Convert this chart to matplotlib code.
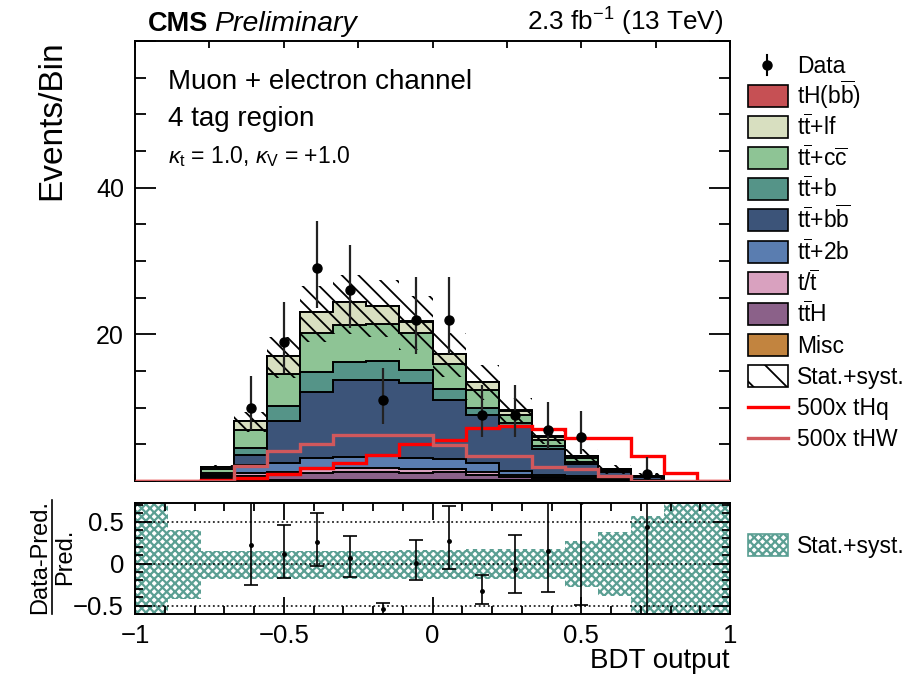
import numpy as np
import matplotlib
matplotlib.use("Agg")
import matplotlib.pyplot as plt
from matplotlib.patches import Rectangle
from matplotlib.lines import Line2D
from matplotlib.ticker import MultipleLocator, FixedLocator, NullFormatter, FixedFormatter, NullLocator

plt.rcParams['font.family'] = ['Liberation Sans', 'DejaVu Sans']
plt.rcParams['mathtext.fontset'] = 'custom'
plt.rcParams['mathtext.rm'] = 'Liberation Sans'
plt.rcParams['mathtext.it'] = 'Liberation Sans:italic'
plt.rcParams['mathtext.bf'] = 'Liberation Sans:bold'
plt.rcParams['mathtext.sf'] = 'Liberation Sans'

# ---- binning -------------------------------------------------------------
edges = np.linspace(-1.0, 1.0, 19)
centers = 0.5 * (edges[:-1] + edges[1:])

# ---- observed data (events per bin) and its asymmetric errors -------------
data = np.array([0, 0, 0, 10, 19, 29, 26, 11, 22, 22, 9, 9, 7, 6, 0, 1, 0, 0], float)
data_err_lo = np.array([0, 0, 0, 3.11, 4.32, 5.36, 5.07, 3.27, 4.66, 4.66, 2.95, 2.95, 2.58, 2.38, 0, 0.83, 0, 0])
data_err_hi = np.array([0, 0, 0, 4.27, 5.44, 6.47, 6.18, 4.42, 5.77, 5.77, 4.11, 4.11, 3.77, 3.58, 0, 2.30, 0, 0])

# ---- background components (bottom of stack first) -----------------------
misc = np.array([0, 0, 0.05, 0.12, 0.12, 0.15, 0.15, 0.15, 0.15, 0.15, 0.12, 0.10, 0.08, 0.05, 0.02, 0.01, 0, 0])
tth = np.array([0, 0, 0.12, 0.60, 0.70, 0.98, 1.12, 1.10, 0.89, 1.05, 0.70, 0.50, 0.32, 0.23, 0.07, 0.03, 0, 0])
single_t = np.array([0, 0, 0.10, 0.32, 0.36, 0.50, 0.53, 0.55, 0.59, 0.50, 0.45, 0.22, 0.10, 0.08, 0.05, 0.02, 0, 0])
tt_2b = np.array([0, 0, 0.23, 1.14, 1.22, 1.45, 1.50, 1.60, 1.57, 1.34, 1.13, 0.58, 0.32, 0.32, 0.12, 0.06, 0.01, 0])
tt_bb = np.array([0.01, 0.03, 0.32, 1.36, 5.76, 9.07, 10.50, 10.40, 10.20, 7.96, 6.58, 5.90, 3.48, 1.62, 0.90, 0.42, 0.04, 0])
tt_b = np.array([0, 0, 0.22, 1.00, 2.04, 2.65, 2.40, 2.50, 1.70, 1.50, 0.99, 0.55, 0.46, 0.30, 0.15, 0.05, 0, 0])
tt_cc = np.array([0, 0, 0.64, 2.40, 4.45, 5.45, 5.10, 5.15, 5.10, 3.50, 2.43, 1.13, 0.82, 0.55, 0.20, 0.06, 0, 0])
tt_lf = np.array([0, 0, 0.27, 1.26, 2.40, 2.85, 3.05, 2.40, 1.55, 1.30, 1.05, 0.62, 0.47, 0.30, 0.12, 0.04, 0, 0])
th_bb = np.array([0, 0, 0, 0.004, 0.01, 0.01, 0.02, 0.02, 0.02, 0.02, 0.02, 0.02, 0.02, 0.015, 0.01, 0.005, 0, 0])

# ---- signal templates scaled by 500 ---------------------------------------
thq_500 = np.array([0, 0, 0.10, 0.40, 0.95, 1.72, 2.40, 3.54, 5.00, 5.62, 7.20, 7.45, 7.10, 5.90, 5.80, 3.45, 1.05, 0])
thw_500 = np.array([0, 0, 0.05, 2.05, 4.10, 5.10, 6.26, 6.26, 6.26, 4.90, 3.40, 3.40, 1.95, 1.60, 0.68, 0.05, 0, 0])

# ---- relative stat.+syst. uncertainty of the prediction -------------------
unc_up = np.array([1.0, 0.40, 0.15, 0.15, 0.15, 0.15, 0.15, 0.15, 0.16, 0.165, 0.17, 0.17, 0.17, 0.27, 0.37, 0.57, 1.0, 1.0])
unc_dn = np.array([1.0, 0.42, 0.18, 0.18, 0.18, 0.18, 0.18, 0.18, 0.18, 0.18, 0.18, 0.18, 0.18, 0.28, 0.39, 1.0, 1.0, 1.0])

# ---- errors on (Data-Pred.)/Pred. ------------------------------------------
ratio_err_lo = np.array([0, 0, 0, 0.47, 0.29, 0.29, 0.23, 0.20, 0.21, 0.34, 0.145, 0.286, 0.49, 1.22, 0, 1.20, 0, 0])
ratio_err_hi = np.array([0, 0, 0, 0.60, 0.35, 0.345, 0.26, 0.075, 0.27, 0.42, 0.196, 0.40, 0.70, 0.80, 0, 1.20, 0, 0])

TT = r"t$\overline{\mathrm{t}}$"
components = [
    ("Misc", misc, "#c2843f"),
    (TT + "H", tth, "#8b6189"),
    (r"t/$\overline{\mathrm{t}}$", single_t, "#d9a1bf"),
    (TT + "+2b", tt_2b, "#5a7db0"),
    (TT + r"+b$\overline{\mathrm{b}}$", tt_bb, "#3c5479"),
    (TT + "+b", tt_b, "#559488"),
    (TT + r"+c$\overline{\mathrm{c}}$", tt_cc, "#8ec495"),
    (TT + "+lf", tt_lf, "#d8dfc0"),
    (r"tH(b$\overline{\mathrm{b}}$)", th_bb, "#c65054"),
]
THQ_COLOR = "#ff0000"
THW_COLOR = "#d0585c"
BAND_COLOR = "#5b9f93"

W, H = 910, 677
fig = plt.figure(figsize=(W / 100, H / 100), dpi=100)

def fx(px):
    return px / W

def fy(py):
    return 1 - py / H

ax = fig.add_axes([fx(135), fy(481), fx(730) - fx(135), fy(41) - fy(481)])
rax = fig.add_axes([fx(135), fy(614), fx(730) - fx(135), fy(503) - fy(614)])

# ---- stacked backgrounds --------------------------------------------------
cum = np.cumsum([c[1] for c in components], axis=0)
total = cum[-1]
for i in range(len(components) - 1, -1, -1):
    ax.stairs(cum[i], edges, baseline=0, fill=True, facecolor=components[i][2],
              edgecolor="black", linewidth=1.4, zorder=2)

# uncertainty band on the total prediction
with plt.rc_context({'hatch.linewidth': 1.3}):
    ax.stairs(total * (1 + unc_up), edges, baseline=total * (1 - unc_dn), fill=True,
              facecolor="none", edgecolor="black", linewidth=0, hatch="\\\\", zorder=3)

# signal templates
ax.stairs(thq_500, edges, baseline=0, color=THQ_COLOR, linewidth=2.4, zorder=4)
ax.stairs(thw_500, edges, baseline=0, color=THW_COLOR, linewidth=2.4, zorder=4)

# data
m = data > 0
ax.errorbar(centers[m], data[m], yerr=[data_err_lo[m], data_err_hi[m]], fmt="o",
            color="black", ecolor="#222222", markersize=6.5, elinewidth=1.6, capsize=0, zorder=6)

ax.set_xlim(-1, 1)
ax.set_ylim(0, 60)
ax.yaxis.set_major_locator(FixedLocator([0, 20, 40, 60]))
ax.yaxis.set_major_formatter(FixedFormatter(["", "20", "40", ""]))
ax.yaxis.set_minor_locator(MultipleLocator(5))
ax.xaxis.set_major_locator(MultipleLocator(0.25))
ax.xaxis.set_minor_locator(NullLocator())
ax.xaxis.set_major_formatter(NullFormatter())
ax.tick_params(axis="both", which="both", direction="in", top=True, right=True, width=1.3)
ax.tick_params(axis="y", which="major", length=15, labelsize=18, pad=8)
ax.tick_params(axis="y", which="minor", length=8)
ax.tick_params(axis="x", which="major", length=5)
for s in ax.spines.values():
    s.set_linewidth(1.4)

# ---- ratio panel ----------------------------------------------------------
with plt.rc_context({'hatch.linewidth': 1.6}):
    rax.stairs(unc_up, edges, baseline=-unc_dn, fill=True, facecolor="none",
               edgecolor=BAND_COLOR, linewidth=0, hatch="xxxx", zorder=1)
for yv in (0.5, 0.0, -0.5):
    rax.axhline(yv, color="black", linestyle=(0, (1.2, 1.8)), linewidth=1.1, zorder=2)

ratio = np.where(total > 0, data / np.where(total > 0, total, 1) - 1, 0)
rax.errorbar(centers[m], ratio[m], yerr=[ratio_err_lo[m], ratio_err_hi[m]], fmt="o",
             color="black", markersize=2.5, elinewidth=1.2, capsize=5, capthick=1.2, zorder=5)

rax.set_xlim(-1, 1)
rax.set_ylim(-0.6, 0.72)
rax.xaxis.set_major_locator(FixedLocator([-1, -0.5, 0, 0.5, 1]))
rax.xaxis.set_major_formatter(FixedFormatter(["\u22121", "\u22120.5", "0", "0.5", "1"]))
rax.xaxis.set_minor_locator(MultipleLocator(0.1))
rax.yaxis.set_major_locator(FixedLocator([-0.5, 0, 0.5]))
rax.yaxis.set_major_formatter(FixedFormatter(["\u22120.5", "0", "0.5"]))
rax.yaxis.set_minor_locator(MultipleLocator(0.1))
rax.tick_params(axis="both", which="both", direction="in", top=True, right=True, width=1.3,
                labelsize=18.5)
rax.tick_params(axis="both", which="major", length=12)
rax.tick_params(axis="both", which="minor", length=6)
rax.tick_params(axis="x", which="major", pad=7)
rax.tick_params(axis="y", which="major", pad=8)
for s in rax.spines.values():
    s.set_linewidth(1.4)

# ---- titles and labels ----------------------------------------------------
fig.text(fx(148), fy(31), "CMS", fontsize=19.5, fontweight="bold", va="baseline", ha="left")
fig.text(fx(214), fy(31), "Preliminary", fontsize=20.5, style="italic", va="baseline", ha="left")
fig.text(fx(723), fy(31), r"2.3 fb$^{-1}$ (13 TeV)", fontsize=18.8, va="baseline", ha="right")

fig.text(fx(168), fy(89), "Muon + electron channel", fontsize=20, va="baseline")
fig.text(fx(168), fy(126), "4 tag region", fontsize=20, va="baseline")
fig.text(fx(168), fy(163), r"$\kappa_{\mathrm{t}}$ = 1.0, $\kappa_{\mathrm{V}}$ = +1.0",
         fontsize=16.5, va="baseline")

fig.text(fx(52), fy(40), "Events/Bin", rotation=90, fontsize=24, ha="center", va="top")
fig.text(fx(40), fy(557), "Data-Pred.", rotation=90, fontsize=17, ha="center", va="center")
fig.add_artist(Line2D([fx(52), fx(52)], [fy(500), fy(614)], color="black", linewidth=1.2))
fig.text(fx(65), fy(557), "Pred.", rotation=90, fontsize=17, ha="center", va="center")
fig.text(fx(730), fy(661), "BDT output", fontsize=20, ha="right", va="center")

# ---- legends --------------------------------------------------------------
LEG_X0, LEG_W, LEG_H, TXT_X = 748, 40, 22, 797
row_y = 65
legend_fs = 16.5

def legend_label(y, label):
    fig.text(fx(TXT_X), fy(y + 8), label, fontsize=legend_fs, va="baseline", ha="left")

# Data
fig.add_artist(Line2D([fx(767), fx(767)], [fy(row_y - 10), fy(row_y + 10)], color="black", linewidth=1.5))
fig.add_artist(Line2D([fx(767)], [fy(row_y)], marker="o", markersize=6.5, color="black"))
legend_label(row_y, "Data")
row_y += 31.1

for name, vals, col in components[::-1]:
    fig.add_artist(Rectangle((fx(LEG_X0), fy(row_y + LEG_H / 2)), fx(LEG_W), LEG_H / H,
                             facecolor=col, edgecolor="black", linewidth=1.2,
                             transform=fig.transFigure))
    legend_label(row_y, name)
    row_y += 31.1

with plt.rc_context({'hatch.linewidth': 1.3}):
    fig.add_artist(Rectangle((fx(LEG_X0), fy(row_y + LEG_H / 2)), fx(LEG_W), LEG_H / H,
                             facecolor="white", edgecolor="black", linewidth=1.2, hatch="\\",
                             transform=fig.transFigure))
legend_label(row_y, "Stat.+syst.")
row_y += 31.1

for name, col in (("500x tHq", THQ_COLOR), ("500x tHW", THW_COLOR)):
    fig.add_artist(Line2D([fx(LEG_X0), fx(LEG_X0 + LEG_W)], [fy(row_y), fy(row_y)],
                          color=col, linewidth=2.4))
    legend_label(row_y, name)
    row_y += 31.1

with plt.rc_context({'hatch.linewidth': 1.6}):
    fig.add_artist(Rectangle((fx(LEG_X0), fy(545 + LEG_H / 2)), fx(LEG_W), LEG_H / H,
                             facecolor="white", edgecolor=BAND_COLOR, linewidth=1.2, hatch="xxxx",
                             transform=fig.transFigure))
legend_label(545, "Stat.+syst.")

fig.savefig("out.png", dpi=100)
